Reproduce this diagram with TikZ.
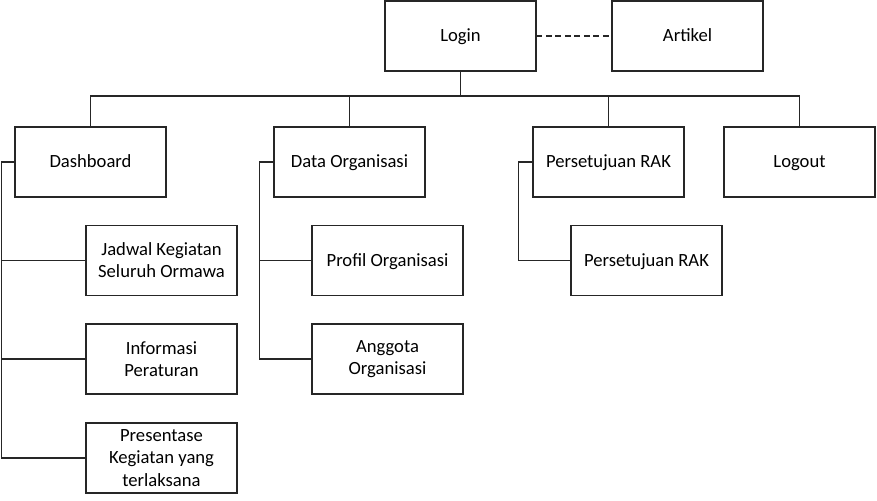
\documentclass[tikz,border=0pt]{standalone}
\usepackage{fontspec}
\setmainfont{Carlito}

\begin{document}
\begin{tikzpicture}[
  x=0.02cm, y=-0.02cm,
  font=\fontsize{10.6}{12.6}\selectfont,
  box/.style={draw=black!85, line width=0.6pt, align=center, minimum width=3.02cm, minimum height=1.4cm, inner sep=1pt},
  single/.style={box, text height=8.5pt, text depth=2pt},
  link/.style={draw=black!85, line width=0.6pt},
  weak/.style={link, dash pattern=on 3.4pt off 2pt}
]
\useasboundingbox (0,0) rectangle (877,501);

% top row
\node[single] (login) at (460.5,36) {Login};
\node[single] (artikel) at (687.5,36) {Artikel};
\draw[weak] (login.east) -- (artikel.west);

% menu row
\node[single] (dash) at (90.5,162) {Dashboard};
\node[single] (dataorg) at (349.5,162) {Data Organisasi};
\node[single] (setuju) at (608.5,162) {Persetujuan RAK};
\node[single] (logout) at (799.5,162) {Logout};

\coordinate (bus) at (460.5,96);
\draw[link] (login.south) -- (bus);
\draw[link] (dash.north) -- (dash.north |- bus) -- (logout.north |- bus) -- (logout.north);
\draw[link] (dataorg.north) -- (dataorg.north |- bus);
\draw[link] (setuju.north) -- (setuju.north |- bus);

% dashboard children
\node[box] (jadwal) at (161.5,260.5) {Jadwal Kegiatan\\Seluruh Ormawa};
\node[box] (info) at (161.5,359) {Informasi\\Peraturan};
\node[box] (presentase) at (161.5,458) {Presentase\\Kegiatan yang\\terlaksana};

\draw[link] (dash.west) -- ++(-13,0) coordinate (dtrunk) |- (presentase.west);
\draw[link] (jadwal.west) -- (jadwal.west -| dtrunk);
\draw[link] (info.west) -- (info.west -| dtrunk);

% data organisasi children
\node[single] (profil) at (387.5,260.5) {Profil Organisasi};
\node[box] (anggota) at (387.5,359) {Anggota\\Organisasi};

\draw[link] (dataorg.west) -- ++(-14,0) coordinate (otrunk) |- (anggota.west);
\draw[link] (profil.west) -- (profil.west -| otrunk);

% persetujuan child
\node[single] (setujurak) at (646.5,260.5) {Persetujuan RAK};
\draw[link] (setuju.west) -- ++(-14,0) |- (setujurak.west);

\end{tikzpicture}
\end{document}
